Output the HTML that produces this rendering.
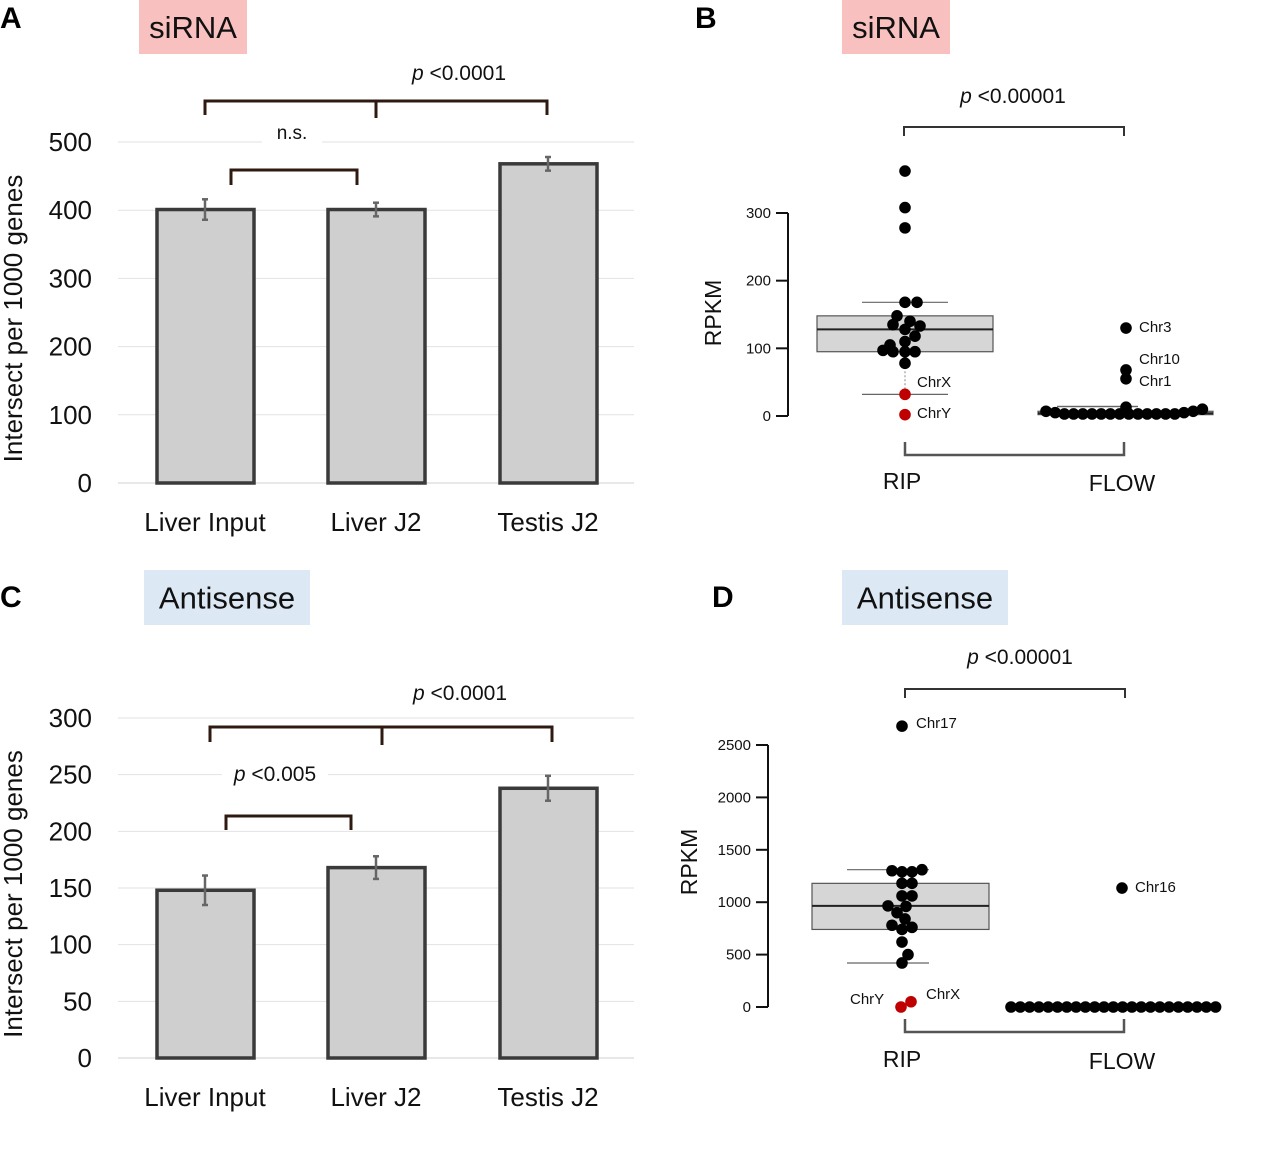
<!DOCTYPE html>
<html><head><meta charset="utf-8">
<style>
body{margin:0;background:#fff;width:1280px;height:1161px;overflow:hidden;font-family:"Liberation Sans",sans-serif}
svg{display:block}
text{font-family:"Liberation Sans",sans-serif}
</style></head>
<body>
<svg id="fig" width="1280" height="1161" viewBox="0 0 1280 1161"></svg>
<script>
// ---- Panel A data ----
const catsA = ["Liver Input","Liver J2","Testis J2"];
const valsA = [401, 401, 468];
const errA = [15, 10, 10];
const ticksA = [0,100,200,300,400,500];
// ---- Panel C data ----
const catsC = ["Liver Input","Liver J2","Testis J2"];
const valsC = [148, 168, 238];
const errC = [13, 10, 11];
const ticksC = [0,50,100,150,200,250,300];
// ---- Panel B data ----
const ticksB = [0,100,200,300];
const ripB = [362,308,278,168,168,148,140,135,133,128,118,110,105,97,95,95,95,78];
const ripBoff = [0,0,0,0,12,-8,5,-12,15,0,10,0,-15,-22,-12,0,10,0];
const ripBred = [32,2];
const flowB = [130,68,55,13];
const flowBlabels = ["Chr3","Chr10","Chr1",""];
const flowBbase = [7,5,3,3,3,3,3,3,3,3,3,3,3,3,3,5,7,10];
const boxB = {lo:32, q1:95, med:128, q3:148, hi:168};
// ---- Panel D data ----
const ticksD = [0,500,1000,1500,2000,2500];
const ripD = [2680,1300,1290,1290,1310,1180,1180,1060,1060,965,960,900,840,780,740,760,620,500,420];
const ripDoff = [0,-10,0,10,20,0,10,0,10,-14,4,-5,3,-10,0,10,0,6,0];
const ripDred = [0,50];
const ripDredOff = [0,10];
const flowD = [1135];
const flowDbaseCount = 23;
const boxD = {lo:420, q1:740, med:965, q3:1180, hi:1310};

const NS="http://www.w3.org/2000/svg";
const svg=document.getElementById('fig');
function el(tag,attrs,parent){const e=document.createElementNS(NS,tag);for(const k in attrs)e.setAttribute(k,attrs[k]);(parent||svg).appendChild(e);return e;}
function txt(s,attrs,parent){const t=el('text',attrs,parent);t.textContent=s;return t;}

function panelLetter(s,x,y,name){const t=txt(s,{x:x,y:y,'font-size':30,'font-weight':'bold',fill:'#000'});}
function tag(s,x,y,w,h,fill,name){const g=el('g',{});el('rect',{x:x,y:y,width:w,height:h,fill:fill},g);txt(s,{x:x+w/2,y:y+h/2+11,'font-size':31,'text-anchor':'middle',fill:'#111'},g);}

function bracket(x1,x2,y,drop,mid,color,w,name){const g=el('g',{fill:'none',stroke:color,'stroke-width':w});
 let d=`M${x1},${y+drop} V${y} H${x2} V${y+drop}`;el('path',{d:d},g);if(mid!=null)el('path',{d:`M${mid},${y} V${y+drop+3}`},g);}

function barPanel(cats,vals,errs,ticks,y0,ymax,pxTop,letter){
 const base=y0, top=pxTop, max=ticks[ticks.length-1];
 const Y=v=>base-(v/max)*(base-top);
 const centers=[205,376,548];
 ticks.forEach(t=>{const l=el('line',{x1:118,x2:634,y1:Y(t),y2:Y(t),stroke:t===0?'#d0d0d0':'#e2e2e2','stroke-width':1});
  const lb=txt(String(t),{x:92,y:Y(t)+9,'font-size':26,'text-anchor':'end',fill:'#111'});});
 cats.forEach((c,i)=>{const cx=centers[i];
  const r=el('rect',{x:cx-48,y:Y(vals[i]),width:97,height:base-Y(vals[i]),fill:'#d0cfcf',stroke:'#3a3a3a','stroke-width':3.5});
  
  const g=el('g',{stroke:'#666','stroke-width':2.5});
  el('line',{x1:cx,x2:cx,y1:Y(vals[i]+errs[i]),y2:Y(vals[i]-errs[i])},g);
  el('line',{x1:cx-3,x2:cx+3,y1:Y(vals[i]+errs[i]),y2:Y(vals[i]+errs[i])},g);
  el('line',{x1:cx-3,x2:cx+3,y1:Y(vals[i]-errs[i]),y2:Y(vals[i]-errs[i])},g);
  const lb=txt(c,{x:cx,y:base+48,'font-size':26,'text-anchor':'middle',fill:'#111'});});
 const yt=txt('Intersect per 1000 genes',{x:0,y:0,'font-size':26,'text-anchor':'middle',fill:'#111',transform:`translate(22,${(base+top)/2+6}) rotate(-90)`});
 
}

function pText(s,x,y,size,name){const t=el('text',{x:x,y:y,'font-size':size,'text-anchor':'middle',fill:'#111'});
 const i=el('tspan',{'font-style':'italic'},t);i.textContent='p';const r=el('tspan',{},t);r.textContent=' <'+s;}

// ---- Panel A ----
panelLetter('A',0,28,'panel-a-label');
tag('siRNA',139,0,108,54,'#f8c0bf','sirna-tag-a');
barPanel(catsA,valsA,errA,ticksA,483,500,142,'A');
el('rect',{x:262,y:137,width:60,height:10,fill:'#fff'});
const ns=txt('n.s.',{x:292,y:139,'font-size':19,'text-anchor':'middle',fill:'#111'});
pText('0.0001',459,80,21,'p-value-a');
bracket(205,547,101,14,376,'#2e1a10',3,'bracket-a-top');
bracket(231,357,170,15,null,'#2e1a10',3,'bracket-a-ns');

// ---- Panel C ----
panelLetter('C',0,607,'panel-c-label');
tag('Antisense',144,570,166,55,'#dde8f5','antisense-tag-c');
barPanel(catsC,valsC,errC,ticksC,1058,300,718,'C');
el('rect',{x:222,y:768,width:106,height:12,fill:'#fff'});
pText('0.005',275,781,21,'p-value-c-small');
pText('0.0001',460,700,21,'p-value-c');
bracket(210,552,727,15,382,'#2e1a10',3,'bracket-c-top');
bracket(226,351,816,14,null,'#2e1a10',3,'bracket-c-small');

// ---- dot panels ----
function dot(x,y,color,name){const c=el('circle',{cx:x,cy:y,r:5.8,fill:color});return c;}
function lbl(s,x,y,name){const t=txt(s,{x:x,y:y,'font-size':15,fill:'#111'});}
function axis(ax,ticks,Y,name){const g=el('g',{stroke:'#111','stroke-width':2,fill:'none'});
 el('line',{x1:ax,x2:ax,y1:Y(ticks[ticks.length-1]),y2:Y(ticks[0])},g);
 ticks.forEach(t=>{el('line',{x1:ax-12,x2:ax,y1:Y(t),y2:Y(t)},g);
  const l=txt(String(t),{x:ax-17,y:Y(t)+5,'font-size':15,'text-anchor':'end',fill:'#111',stroke:'none'});});}
function box(b,Y,x1,x2,wx1,wx2,name){const g=el('g',{});
 el('rect',{x:x1,y:Y(b.q3),width:x2-x1,height:Y(b.q1)-Y(b.q3),fill:'#d6d6d6',stroke:'#555','stroke-width':1.2},g);
 el('line',{x1:x1,x2:x2,y1:Y(b.med),y2:Y(b.med),stroke:'#222','stroke-width':2},g);
 el('line',{x1:wx1,x2:wx2,y1:Y(b.hi),y2:Y(b.hi),stroke:'#666','stroke-width':1.2},g);
 el('line',{x1:wx1,x2:wx2,y1:Y(b.lo),y2:Y(b.lo),stroke:'#666','stroke-width':1.2},g);}
function rpkm(x,y){const t=txt('RPKM',{x:0,y:0,'font-size':23,'text-anchor':'middle',fill:'#111',transform:`translate(${x},${y}) rotate(-90)`});}
function groupLabels(yb,yl){bracket(905,1124,yb,-13,null,'#555',2.5,'group-bracket');
 const a=txt('RIP',{x:902,y:yl,'font-size':23,'text-anchor':'middle',fill:'#111'});
 const b=txt('FLOW',{x:1122,y:yl+2,'font-size':23,'text-anchor':'middle',fill:'#111'});}

// ---- Panel B ----
panelLetter('B',695,28,'panel-b-label');
tag('siRNA',842,0,108,54,'#f8c0bf','sirna-tag-b');
pText('0.00001',1013,103,21,'p-value-b');
bracket(904,1124,127,9,null,'#333',2,'bracket-b');
const YB=v=>416-v*(416-213)/300;
axis(788,ticksB,YB,'y-axis-b');
rpkm(721,313);
box(boxB,YB,817,993,862,948,'box-rip-b');
el('line',{x1:905,x2:905,y1:YB(78),y2:YB(32),stroke:'#888','stroke-dasharray':'2,2'});
box({lo:14,q1:2,med:4,q3:7,hi:14},YB,1038,1213,1057,1138,'box-flow-b');
ripB.forEach((v,i)=>dot(905+ripBoff[i],YB(v),'#000','dot-rip-b'));
ripBred.forEach(v=>dot(905,YB(v),'#c00000','dot-rip-red-b'));
lbl('ChrX',917,387,'label-chrx-b');lbl('ChrY',917,418,'label-chry-b');
flowB.forEach((v,i)=>{dot(1126,YB(v),'#000','dot-flow-b');});
lbl('Chr3',1139,332,'label-chr3');lbl('Chr10',1139,364,'label-chr10');lbl('Chr1',1139,386,'label-chr1');
flowBbase.forEach((v,i)=>dot(1046+i*9.2,YB(v),'#000','dot-flow-base-b'));
groupLabels(455,489);

// ---- Panel D ----
panelLetter('D',712,607,'panel-d-label');
tag('Antisense',842,570,166,55,'#dde8f5','antisense-tag-d');
pText('0.00001',1020,664,21,'p-value-d');
bracket(905,1125,689,9,null,'#333',2,'bracket-d');
const YD=v=>1007-v*(1007-745)/2500;
axis(768,ticksD,YD,'y-axis-d');
rpkm(697,862);
box(boxD,YD,812,989,847,929,'box-rip-d');
ripD.forEach((v,i)=>dot(902+ripDoff[i],YD(v),'#000','dot-rip-d'));
ripDred.forEach((v,i)=>dot(901+ripDredOff[i],YD(v),'#c00000','dot-rip-red-d'));
lbl('Chr17',916,728,'label-chr17');lbl('ChrY',850,1004,'label-chry-d');lbl('ChrX',926,999,'label-chrx-d');
flowD.forEach(v=>dot(1122,YD(v),'#000','dot-flow-d'));
lbl('Chr16',1135,892,'label-chr16');
for(let i=0;i<flowDbaseCount;i++){dot(1011+i*9.3,YD(0),'#000','dot-flow-base-d');}
groupLabels(1032,1067);
</script>
</body></html>
